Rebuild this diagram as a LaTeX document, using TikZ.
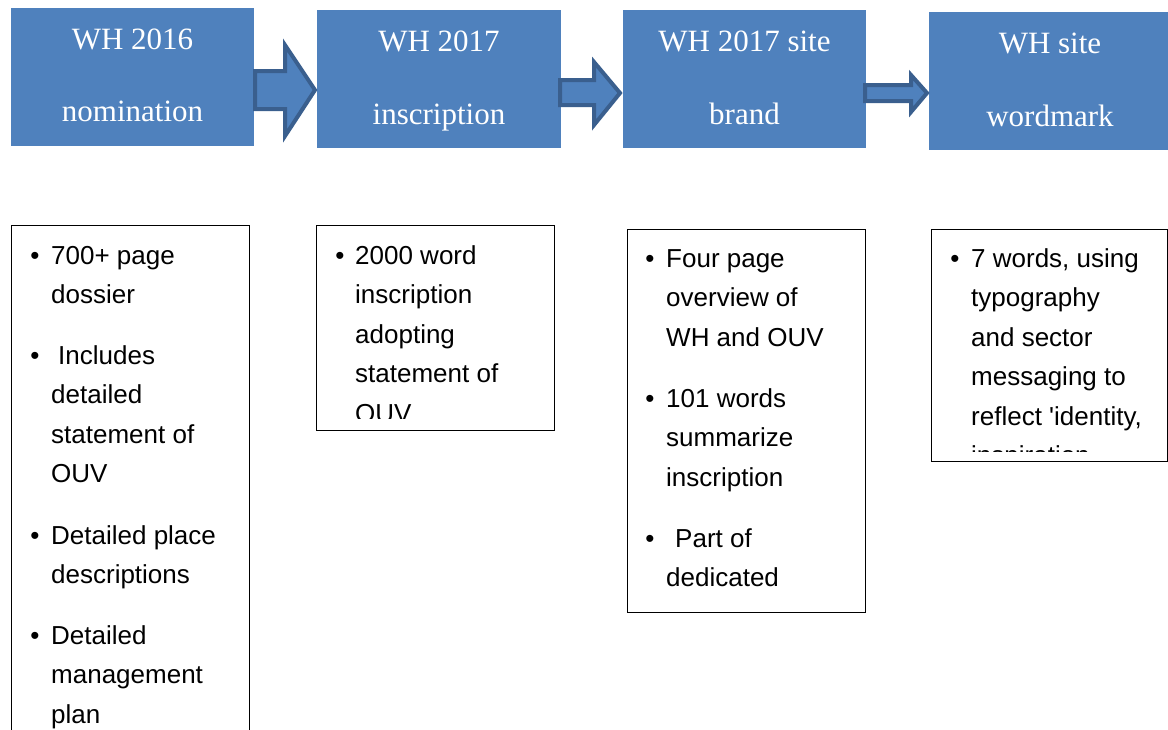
\documentclass[tikz,border=0pt]{standalone}
\usepackage{fontspec}
\setmainfont{Liberation Serif}
\newfontfamily\bodyfont{Liberation Sans}
\definecolor{stageblue}{HTML}{4F81BD}
\definecolor{stageedge}{HTML}{3A5F8E}
\tikzset{
  stage/.style={fill=stageblue, draw=none, anchor=north west, inner sep=0pt},
  stagetext/.style={text=white, inner sep=0pt, anchor=base, font=\fontsize{31}{36}\selectfont},
  blockarrow/.style={fill=stageblue, draw=stageedge, line width=4pt, line join=miter},
  notebox/.style={draw=black, line width=1.4pt, fill=none, anchor=north west, inner sep=0pt},
  bul/.style={inner sep=0pt, anchor=base, font=\bodyfont\fontsize{26}{30}\selectfont},
  body/.style={inner sep=0pt, anchor=base west, font=\bodyfont\fontsize{26}{30}\selectfont},
}
% bullet item: #1 bullet x, #2 text x, #3 first baseline y, #4 lines
\newcommand\noteitem[4]{%
  \node[bul] at (#1,#3) {•};
  \foreach \ln [count=\k from 0] in {#4}
    \node[body] at (#2,{#3+\k*39.5}) {\ln};
}
\begin{document}
\begin{tikzpicture}[x=1pt,y=-1pt]
\useasboundingbox (0,0) rectangle (1168,729);
\begin{scope}
\clip (0,0) rectangle (1168,729);

% stages
\node[stage, minimum width=243pt, minimum height=138pt] (s1) at (11,8) {};
\node[stage, minimum width=244pt, minimum height=138pt] (s2) at (317,10) {};
\node[stage, minimum width=243pt, minimum height=138pt] (s3) at (623,10) {};
\node[stage, minimum width=240pt, minimum height=138pt] (s4) at (929,12) {};

\node[stagetext] (t1a) at (132.5,49) {WH 2016};
\node[stagetext] (t1b) at (132.5,121) {nomination};
\node[stagetext] (t2a) at (439,51) {WH 2017};
\node[stagetext] (t2b) at (439,124) {inscription};
\node[stagetext] (t3a) at (744.5,51) {WH 2017 site};
\node[stagetext] (t3b) at (744.5,124) {brand};
\node[stagetext] (t4a) at (1050,53) {WH site};
\node[stagetext] (t4b) at (1050,126) {wordmark};

% block arrows between the stages
\draw[blockarrow] (255,71) -- (285,71) -- (285,45) -- (315,90) -- (285,136) -- (285,109) -- (255,109) -- cycle;
\draw[blockarrow] (560,80) -- (594,80) -- (594,62) -- (620,93) -- (594,125) -- (594,105) -- (560,105) -- cycle;
\draw[blockarrow] (865,85) -- (911,85) -- (911,75) -- (927,93) -- (911,112) -- (911,101) -- (865,101) -- cycle;

% note boxes
\node[notebox, minimum width=238pt, minimum height=520pt] (n1) at (11,225) {};
\node[notebox, minimum width=238pt, minimum height=205pt] (n2) at (316,225) {};
\node[notebox, minimum width=238pt, minimum height=383pt] (n3) at (627,229) {};
\node[notebox, minimum width=236pt, minimum height=232pt] (n4) at (931,229) {};

\begin{scope}
\clip (11,225) rectangle (249,729);
\noteitem{35}{51}{264}{700+ page, dossier}
\noteitem{35}{51}{364}{\hspace{7pt}Includes, detailed, statement of, OUV}
\noteitem{35}{51}{544}{Detailed place, descriptions}
\noteitem{35}{51}{644}{Detailed, management, plan}
\end{scope}

\begin{scope}
\clip (316,225) rectangle (554,418);
\noteitem{340}{355}{264}{2000 word, inscription, adopting, statement of, OUV}
\end{scope}

\begin{scope}
\clip (627,229) rectangle (865,600);
\noteitem{650}{666}{267}{Four page, overview of, WH and OUV}
\noteitem{650}{666}{407}{101 words, summarize, inscription}
\noteitem{650}{666}{547}{\hspace{9pt}Part of, dedicated}
\end{scope}

\begin{scope}
\clip (931,229) rectangle (1167,451);
\noteitem{955}{971}{267}{{7 words, using}, typography, and sector, messaging to, {reflect 'identity,}, inspiration}
\end{scope}

\end{scope}
\end{tikzpicture}
\end{document}
